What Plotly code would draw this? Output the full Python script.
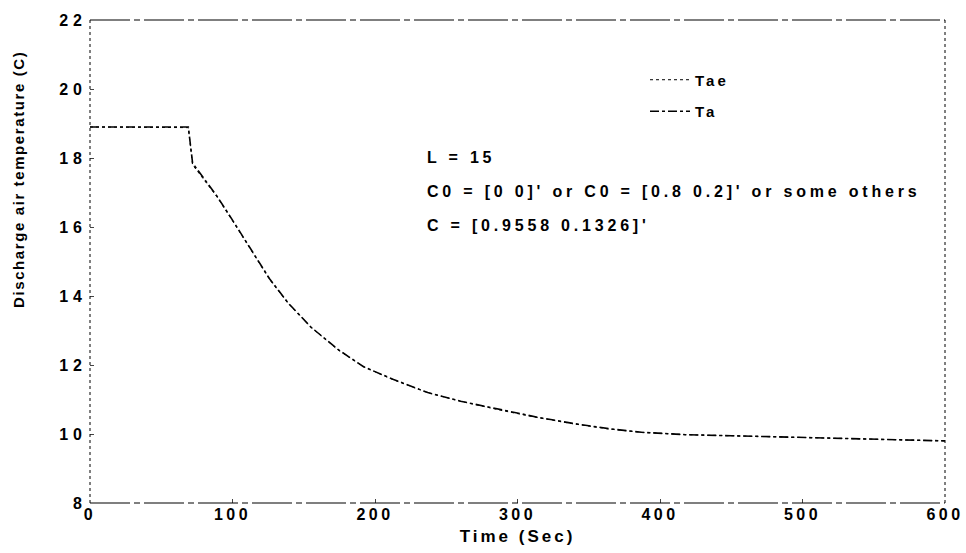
import plotly.graph_objects as go

time_s = [0, 69, 72, 89, 100, 114, 126, 139, 155, 174, 192, 213, 237, 260, 288, 316, 340, 365, 387, 418, 450, 480, 511, 550, 580, 600]
ta = [18.9, 18.9, 17.85, 16.9, 16.2, 15.3, 14.5, 13.8, 13.1, 12.45, 11.95, 11.58, 11.2, 10.95, 10.7, 10.47, 10.3, 10.15, 10.05, 9.98, 9.95, 9.92, 9.89, 9.86, 9.82, 9.8]
tae = [18.9, 18.88, 17.8, 16.88, 16.18, 15.28, 14.48, 13.79, 13.1, 12.44, 11.95, 11.57, 11.2, 10.95, 10.69, 10.46, 10.29, 10.14, 10.05, 9.98, 9.95, 9.92, 9.89, 9.85, 9.82, 9.8]
x_ticks = [0, 100, 200, 300, 400, 500, 600]
y_ticks = [8, 10, 12, 14, 16, 18, 20, 22]
notes = ["L = 15", "C0 = [0 0]' or C0 = [0.8 0.2]' or some others", "C = [0.9558 0.1326]'"]

FONT = "Liberation Sans"


def sp(text, ls=3.5):
    return f"<span style='letter-spacing:{ls}px'>{text}</span>"


fig = go.Figure()
fig.add_trace(go.Scatter(x=time_s, y=tae, mode="lines", name=sp("Tae", 3), legendgroup="a",
                         line=dict(color="black", width=1.0, dash="dot")))
fig.add_trace(go.Scatter(x=time_s, y=ta, mode="lines", name=sp("Ta", 3), legendgroup="b",
                         line=dict(color="black", width=1.6, dash="dashdot")))

for i, t in enumerate(notes):
    fig.add_annotation(x=(425 - 90) / 855, y=0.715 - i * 0.07, xref="paper", yref="paper", text=sp(t, 3.8),
                       showarrow=False, xanchor="left", yanchor="middle",
                       font=dict(family=FONT, size=16, color="black", weight="bold"))

# y-axis title (placed as in the reference, above plot centre)
fig.add_annotation(x=(18 - 90) / 855, xref="paper", y=(503 - 180) / 483, yref="paper",
                   text=sp("Discharge air temperature (C)", 1.6),
                   textangle=-90, showarrow=False, xanchor="center", yanchor="middle",
                   font=dict(family=FONT, size=15, color="black", weight="bold"))

# frame
fig.add_shape(type="line", xref="paper", yref="paper", x0=0, x1=1, y0=1, y1=1,
              line=dict(color="black", width=1.2, dash="40px,4px,6px,4px"))
fig.add_shape(type="line", xref="paper", yref="paper", x0=0, x1=1, y0=0, y1=0,
              line=dict(color="black", width=1.2, dash="40px,4px,6px,4px"))
fig.add_shape(type="line", xref="paper", yref="paper", x0=0, x1=0, y0=0, y1=1,
              line=dict(color="black", width=1, dash="dot"))
fig.add_shape(type="line", xref="paper", yref="paper", x0=1, x1=1, y0=0, y1=1,
              line=dict(color="black", width=1, dash="dot"))

fig.update_layout(
    width=966, height=553,
    margin=dict(l=90, r=21, t=20, b=50),
    paper_bgcolor="white", plot_bgcolor="white",
    font=dict(family=FONT, size=15, color="black"),
    showlegend=True,
    legend=dict(x=(645 - 90) / 855, y=0.91, xanchor="left", yanchor="top", bgcolor="rgba(0,0,0,0)",
                traceorder="grouped", tracegroupgap=9, itemwidth=40,
                font=dict(family=FONT, size=15, color="black", weight="bold")),
    xaxis=dict(range=[0, 600], tickvals=x_ticks, ticktext=[sp(str(v), 3.5) for v in x_ticks],
               ticks="inside", ticklen=4, showgrid=False, automargin=False,
               zeroline=False, showline=False,
               tickfont=dict(family=FONT, size=16, weight="bold"),
               title=dict(text=sp("Time (Sec)", 3), standoff=8,
                          font=dict(family=FONT, size=17, weight="bold"))),
    yaxis=dict(range=[8, 22], tickvals=y_ticks, ticktext=[sp(str(v), 5) for v in y_ticks],
               ticks="inside", ticklen=4, showgrid=False, ticklabelstandoff=2, automargin=False,
               zeroline=False, showline=False,
               tickfont=dict(family=FONT, size=16, weight="bold")),
)

fig.write_html("out.html")
